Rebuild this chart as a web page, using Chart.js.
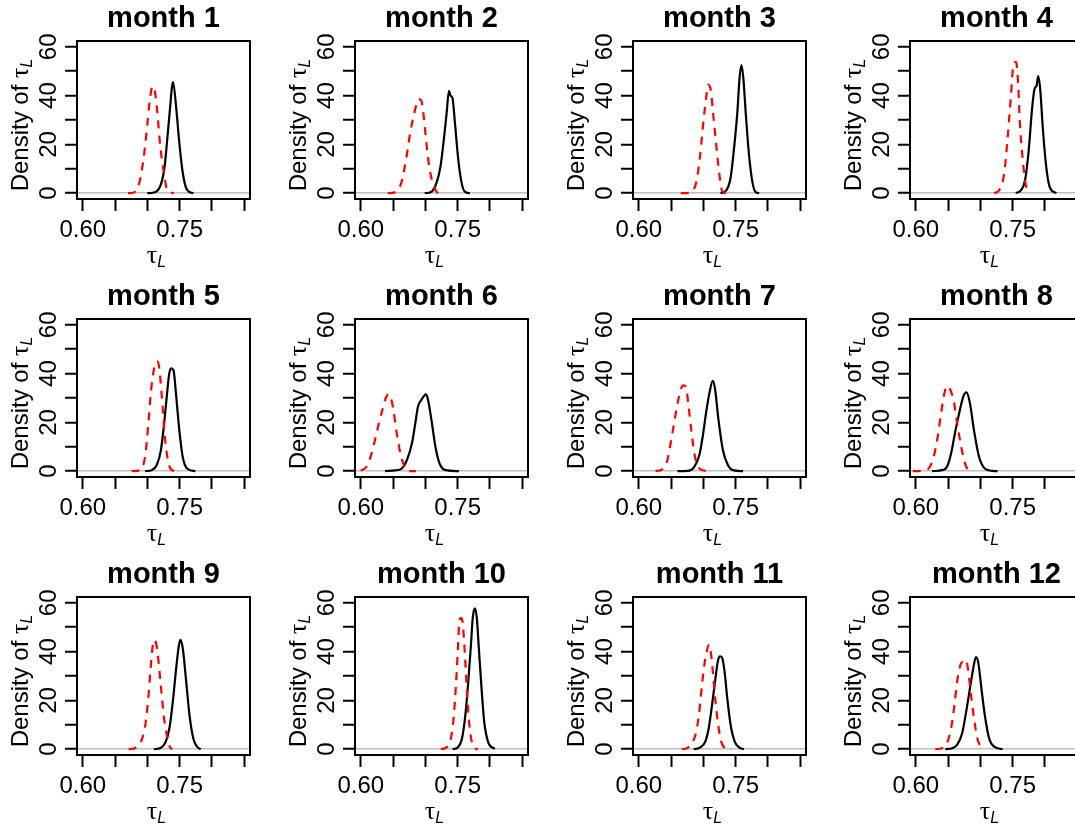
<!DOCTYPE html>
<html>
<head>
<meta charset="utf-8">
<script src="https://cdn.jsdelivr.net/npm/chart.js@4.4.0/dist/chart.umd.min.js"></script>
<style>
  html, body { margin: 0; padding: 0; background: #fff; overflow: hidden; }
  #wrap { position: relative; width: 1075px; height: 830px; overflow: hidden; }
  #wrap canvas { position: absolute; }
</style>
</head>
<body>
<div id="wrap"></div>
<script>
// panel titles and axis ticks
const months = ['month 1', 'month 2', 'month 3', 'month 4', 'month 5', 'month 6',
                'month 7', 'month 8', 'month 9', 'month 10', 'month 11', 'month 12'];
const xTicks = [0.60, 0.65, 0.70, 0.75, 0.80, 0.85];
const xTickLabels = ['0.60', '', '', '0.75', '', ''];
const yTicks = [0, 10, 20, 30, 40, 50, 60];
const yTickLabels = ['0', '', '20', '', '40', '', '60'];

// red dashed density (one row per month)
const redX = [
  [0.670, 0.679, 0.688, 0.6945, 0.6997, 0.704, 0.708, 0.711, 0.715, 0.720, 0.7257, 0.731, 0.741],
  [0.6417, 0.652, 0.6625, 0.670, 0.6766, 0.683, 0.6896, 0.6937, 0.6974, 0.7016, 0.7068, 0.7146, 0.7198, 0.730],
  [0.665, 0.677, 0.689, 0.695, 0.7005, 0.7047, 0.707, 0.711, 0.715, 0.720, 0.725, 0.729, 0.7396],
  [0.7214, 0.729, 0.737, 0.742, 0.7474, 0.751, 0.7552, 0.7578, 0.7615, 0.7667, 0.771, 0.776],
  [0.6755, 0.6885, 0.6964, 0.7016, 0.7057, 0.710, 0.7146, 0.7182, 0.7224, 0.7276, 0.733, 0.738, 0.7484],
  [0.600, 0.6089, 0.6167, 0.6219, 0.628, 0.6333, 0.6385, 0.6427, 0.6469, 0.6505, 0.6557, 0.6625, 0.6688, 0.6766, 0.6854],
  [0.626, 0.6365, 0.6443, 0.652, 0.6583, 0.6635, 0.6688, 0.6729, 0.6771, 0.6818, 0.687, 0.6938, 0.7068],
  [0.5953, 0.6068, 0.6198, 0.6276, 0.6339, 0.6391, 0.6443, 0.6484, 0.6536, 0.6589, 0.6641, 0.6703, 0.6771, 0.6849, 0.690],
  [0.6711, 0.6815, 0.6919, 0.6971, 0.7012, 0.7049, 0.708, 0.7111, 0.7153, 0.7205, 0.7256, 0.7308, 0.735, 0.7386],
  [0.724, 0.7328, 0.7396, 0.7438, 0.7474, 0.7505, 0.7526, 0.7552, 0.7578, 0.761, 0.7641, 0.7672, 0.7708, 0.776, 0.7813],
  [0.6667, 0.6745, 0.6823, 0.6891, 0.6943, 0.6979, 0.7016, 0.7047, 0.7089, 0.712, 0.7151, 0.7188, 0.7229, 0.7276, 0.7344, 0.7438],
  [0.6302, 0.6406, 0.6484, 0.6547, 0.6599, 0.6641, 0.6693, 0.6734, 0.6771, 0.6807, 0.6849, 0.6901, 0.6953, 0.7005, 0.7047]
];
const redY = [
  [0, 0.3, 4.7, 15, 27.5, 38.6, 43.8, 42.7, 34.4, 19.2, 8.2, 1.2, 0],
  [0, 0.3, 4, 13.7, 24.8, 33, 38.6, 38, 31.7, 20.6, 9.5, 2, 0.1, 0],
  [0, 0.1, 4.5, 15.5, 30.5, 40, 44.5, 43, 33, 19.6, 7.3, 1, 0],
  [0, 1.2, 8.2, 22, 40, 52.4, 53.8, 48.3, 27.5, 10.9, 2.6, 0],
  [0, 0.4, 5.9, 19.6, 33, 41.5, 45, 42.9, 30.5, 12.7, 3.2, 0.4, 0],
  [0.2, 1.8, 7.3, 12.7, 19.6, 25, 29.9, 31.6, 29.9, 25, 15.5, 5.9, 1.4, 0, 0],
  [0, 0.7, 4.6, 15.6, 25.2, 32.1, 35.2, 34.6, 26.6, 15.6, 5.9, 1.1, 0],
  [0, 0.1, 1.1, 5.9, 14.1, 23.7, 31.9, 34.9, 33.3, 28.5, 19.6, 10, 2.5, 0, 0],
  [0, 0.5, 4.3, 10.5, 20.1, 32.5, 41.8, 44.8, 40.7, 27, 13.2, 5, 0.8, 0],
  [0, 0.7, 4.5, 12.7, 26.4, 41.5, 52.5, 53.8, 51.8, 40, 25, 12.7, 4.5, 0.4, 0],
  [0, 0.4, 2.5, 7.3, 16.8, 26.4, 34.7, 39.5, 42.9, 38.8, 30.5, 19.6, 10, 3.2, 0.4, 0],
  [0, 0.4, 2.5, 8.6, 18.2, 27.8, 34.7, 36, 36.7, 33.3, 23.7, 12.7, 4.5, 1, 0]
];

// black solid density (one row per month)
const blackX = [
  [0.700, 0.7127, 0.7215, 0.7267, 0.7308, 0.7345, 0.7397, 0.7449, 0.749, 0.7542, 0.7594, 0.7646, 0.7713],
  [0.699, 0.709, 0.717, 0.7234, 0.7286, 0.733, 0.7365, 0.739, 0.742, 0.7458, 0.751, 0.7563, 0.7615, 0.769],
  [0.7266, 0.734, 0.742, 0.748, 0.7526, 0.756, 0.7589, 0.762, 0.7656, 0.7708, 0.776, 0.781, 0.7865],
  [0.755, 0.763, 0.7693, 0.775, 0.780, 0.7839, 0.787, 0.7896, 0.7927, 0.7969, 0.802, 0.8073, 0.8177],
  [0.6964, 0.7068, 0.7146, 0.721, 0.726, 0.730, 0.7339, 0.737, 0.7406, 0.7443, 0.7495, 0.7547, 0.7615, 0.7745],
  [0.6375, 0.6531, 0.6635, 0.6714, 0.6792, 0.6844, 0.6885, 0.6938, 0.701, 0.7042, 0.7094, 0.7156, 0.7219, 0.7313, 0.752],
  [0.660, 0.6755, 0.6859, 0.6938, 0.699, 0.7042, 0.7094, 0.7146, 0.7182, 0.7234, 0.7302, 0.738, 0.7458, 0.7615],
  [0.625, 0.6406, 0.6484, 0.6547, 0.6615, 0.6682, 0.6734, 0.6786, 0.6839, 0.6901, 0.6979, 0.7068, 0.7188, 0.7266],
  [0.710, 0.7205, 0.7282, 0.7345, 0.7397, 0.7449, 0.749, 0.7516, 0.7552, 0.7604, 0.7656, 0.7713, 0.7776, 0.7828],
  [0.7422, 0.750, 0.7568, 0.762, 0.7661, 0.7703, 0.7734, 0.7766, 0.7797, 0.7828, 0.787, 0.7911, 0.7969, 0.8073],
  [0.6849, 0.6953, 0.7031, 0.7083, 0.7135, 0.7188, 0.7224, 0.7255, 0.7292, 0.7328, 0.737, 0.7422, 0.7484, 0.7552, 0.763],
  [0.6458, 0.6563, 0.6641, 0.6719, 0.6781, 0.6839, 0.6891, 0.6932, 0.6969, 0.7016, 0.7068, 0.7135, 0.7214, 0.7344]
];
const blackY = [
  [0, 0.5, 4, 10.9, 22, 33, 45.5, 34.4, 22, 9.5, 2.6, 0.5, 0],
  [0, 0.5, 4, 10.9, 22, 33, 42, 40, 39, 28.9, 13.7, 4, 0.5, 0],
  [0, 0.7, 6, 19.6, 33, 47, 52.5, 47, 33, 15.5, 4.5, 0.4, 0],
  [0, 1.2, 5.4, 17.8, 34.4, 42.7, 44, 48, 42.7, 26.1, 10.9, 2.6, 0],
  [0, 0.4, 2.5, 8.6, 19.6, 30.5, 40, 42.2, 41.2, 31.9, 16.8, 5.9, 1.1, 0],
  [0, 0.3, 1.1, 4.5, 11.4, 19.6, 26.4, 29.2, 31.5, 29.2, 21, 10, 3.2, 0.4, 0],
  [0, 0.1, 1.8, 6.6, 14.2, 23.9, 32.1, 37, 33.5, 21.1, 8.7, 2.5, 0.4, 0],
  [0, 0.4, 1.8, 7.3, 16.8, 25, 30.5, 32.3, 27.8, 16.8, 5.9, 1.1, 0.1, 0],
  [0, 0.5, 2.9, 9.1, 20.1, 33.8, 42.8, 44.8, 40.7, 27, 13.2, 4.3, 0.8, 0],
  [0, 0.7, 4.5, 14.1, 26.4, 41.5, 53.8, 57.7, 53.8, 41.5, 25, 11.4, 3.2, 0],
  [0, 0.7, 3.2, 8.6, 18.2, 29.2, 36, 38.1, 37.4, 31.9, 21, 10, 3.2, 0.7, 0],
  [0, 0.4, 1.8, 6.6, 15.5, 25, 33.3, 37.8, 35.3, 25, 14.1, 4.5, 1, 0]
];

const FONT = "'Liberation Sans', Arial, sans-serif";
const SERIF = "'Liberation Serif', 'DejaVu Serif', serif";
Chart.defaults.font.family = FONT;
Chart.defaults.color = '#000';

// box round the plot region, like R's bty="o"
const boxPlugin = {
  id: 'rbox',
  afterDatasetsDraw(chart) {
    const a = chart.chartArea, ctx = chart.ctx;
    ctx.save();
    ctx.strokeStyle = '#000';
    ctx.lineWidth = 2;
    ctx.strokeRect(a.left, a.top, a.right - a.left, a.bottom - a.top);
    ctx.restore();
  }
};

// axis titles with the subscript L
const tauTitles = {
  id: 'tauTitles',
  afterDraw(chart) {
    const a = chart.chartArea, ctx = chart.ctx;
    const big = '24px ' + FONT, tau = '26px ' + SERIF, small = 'italic 16px ' + FONT;
    ctx.save();
    ctx.fillStyle = '#000';
    ctx.textAlign = 'left';
    ctx.textBaseline = 'alphabetic';
    ctx.font = big;
    const wd = ctx.measureText('Density of ').width;
    ctx.font = tau;
    const wt = ctx.measureText('τ').width;
    ctx.font = small;
    const wl = ctx.measureText('L').width;

    // x title
    const x0 = (a.left + a.right) / 2 - 7 - (wt + wl) / 2;
    ctx.font = tau;
    ctx.fillText('τ', x0, a.bottom + 64);
    ctx.font = small;
    ctx.fillText('L', x0 + wt, a.bottom + 68);

    // y title, rotated
    ctx.translate(28, (a.top + a.bottom) / 2 + 5);
    ctx.rotate(-Math.PI / 2);
    const s0 = -(wd + wt + wl) / 2;
    ctx.font = big;
    ctx.fillText('Density of ', s0, 0);
    ctx.font = tau;
    ctx.fillText('τ', s0 + wd, 0);
    ctx.font = small;
    ctx.fillText('L', s0 + wd + wt, 4);
    ctx.restore();
  }
};

const wrap = document.getElementById('wrap');

for (let i = 0; i < 12; i++) {
  const col = i % 4, row = Math.floor(i / 4);
  const cv = document.createElement('canvas');
  cv.width = 278;
  cv.height = 278;
  cv.style.left = Math.round(col * 277.8) + 'px';
  cv.style.top = Math.round(row * 277.85) + 'px';
  wrap.appendChild(cv);

  const redPts = redX[i].map((x, j) => ({ x: x, y: redY[i][j] }));
  const blackPts = blackX[i].map((x, j) => ({ x: x, y: blackY[i][j] }));

  new Chart(cv, {
    type: 'line',
    data: {
      datasets: [{
        data: redPts,
        borderColor: '#ff0000',
        borderWidth: 2.2,
        borderDash: [8, 7],
        pointRadius: 0,
        fill: false,
        cubicInterpolationMode: 'monotone'
      }, {
        data: blackPts,
        borderColor: '#000000',
        borderWidth: 2.2,
        pointRadius: 0,
        fill: false,
        cubicInterpolationMode: 'monotone'
      }]
    },
    options: {
      responsive: false,
      animation: false,
      devicePixelRatio: 1,
      layout: { padding: { left: 0, right: 28, top: 0, bottom: 0 } },
      plugins: {
        legend: { display: false },
        tooltip: { enabled: false },
        title: {
          display: true,
          text: months[i],
          fullSize: false,
          color: '#000',
          font: { size: 29, weight: 'bold', lineHeight: 1.2 },
          padding: { top: 1.5, bottom: 4.7 }
        }
      },
      scales: {
        x: {
          type: 'linear',
          min: 0.591,
          max: 0.859,
          afterBuildTicks: s => { s.ticks = xTicks.map(v => ({ value: v })); },
          afterFit: s => { s.height = 79; },
          grid: { drawOnChartArea: false, tickLength: 12, tickWidth: 2, tickColor: '#000' },
          border: { display: false },
          ticks: {
            autoSkip: false,
            maxRotation: 0,
            minRotation: 0,
            padding: 5,
            color: '#000',
            font: { size: 24 },
            callback: (v, idx) => xTickLabels[idx]
          }
        },
        y: {
          type: 'linear',
          min: -2.4,
          max: 62.4,
          afterBuildTicks: s => { s.ticks = yTicks.map(v => ({ value: v })); },
          afterFit: s => { s.width = 77; },
          grid: {
            drawOnChartArea: true,
            color: c => (c.tick && c.tick.value === 0) ? '#bebebe' : 'rgba(0,0,0,0)',
            lineWidth: 1.5,
            tickLength: 12,
            tickWidth: 2,
            tickColor: '#000'
          },
          border: { display: false },
          ticks: {
            autoSkip: false,
            minRotation: 90,
            maxRotation: 90,
            crossAlign: 'center',
            padding: 2,
            color: '#000',
            font: { size: 24 },
            callback: (v, idx) => yTickLabels[idx]
          }
        }
      }
    },
    plugins: [boxPlugin, tauTitles]
  });
}
</script>
</body>
</html>
